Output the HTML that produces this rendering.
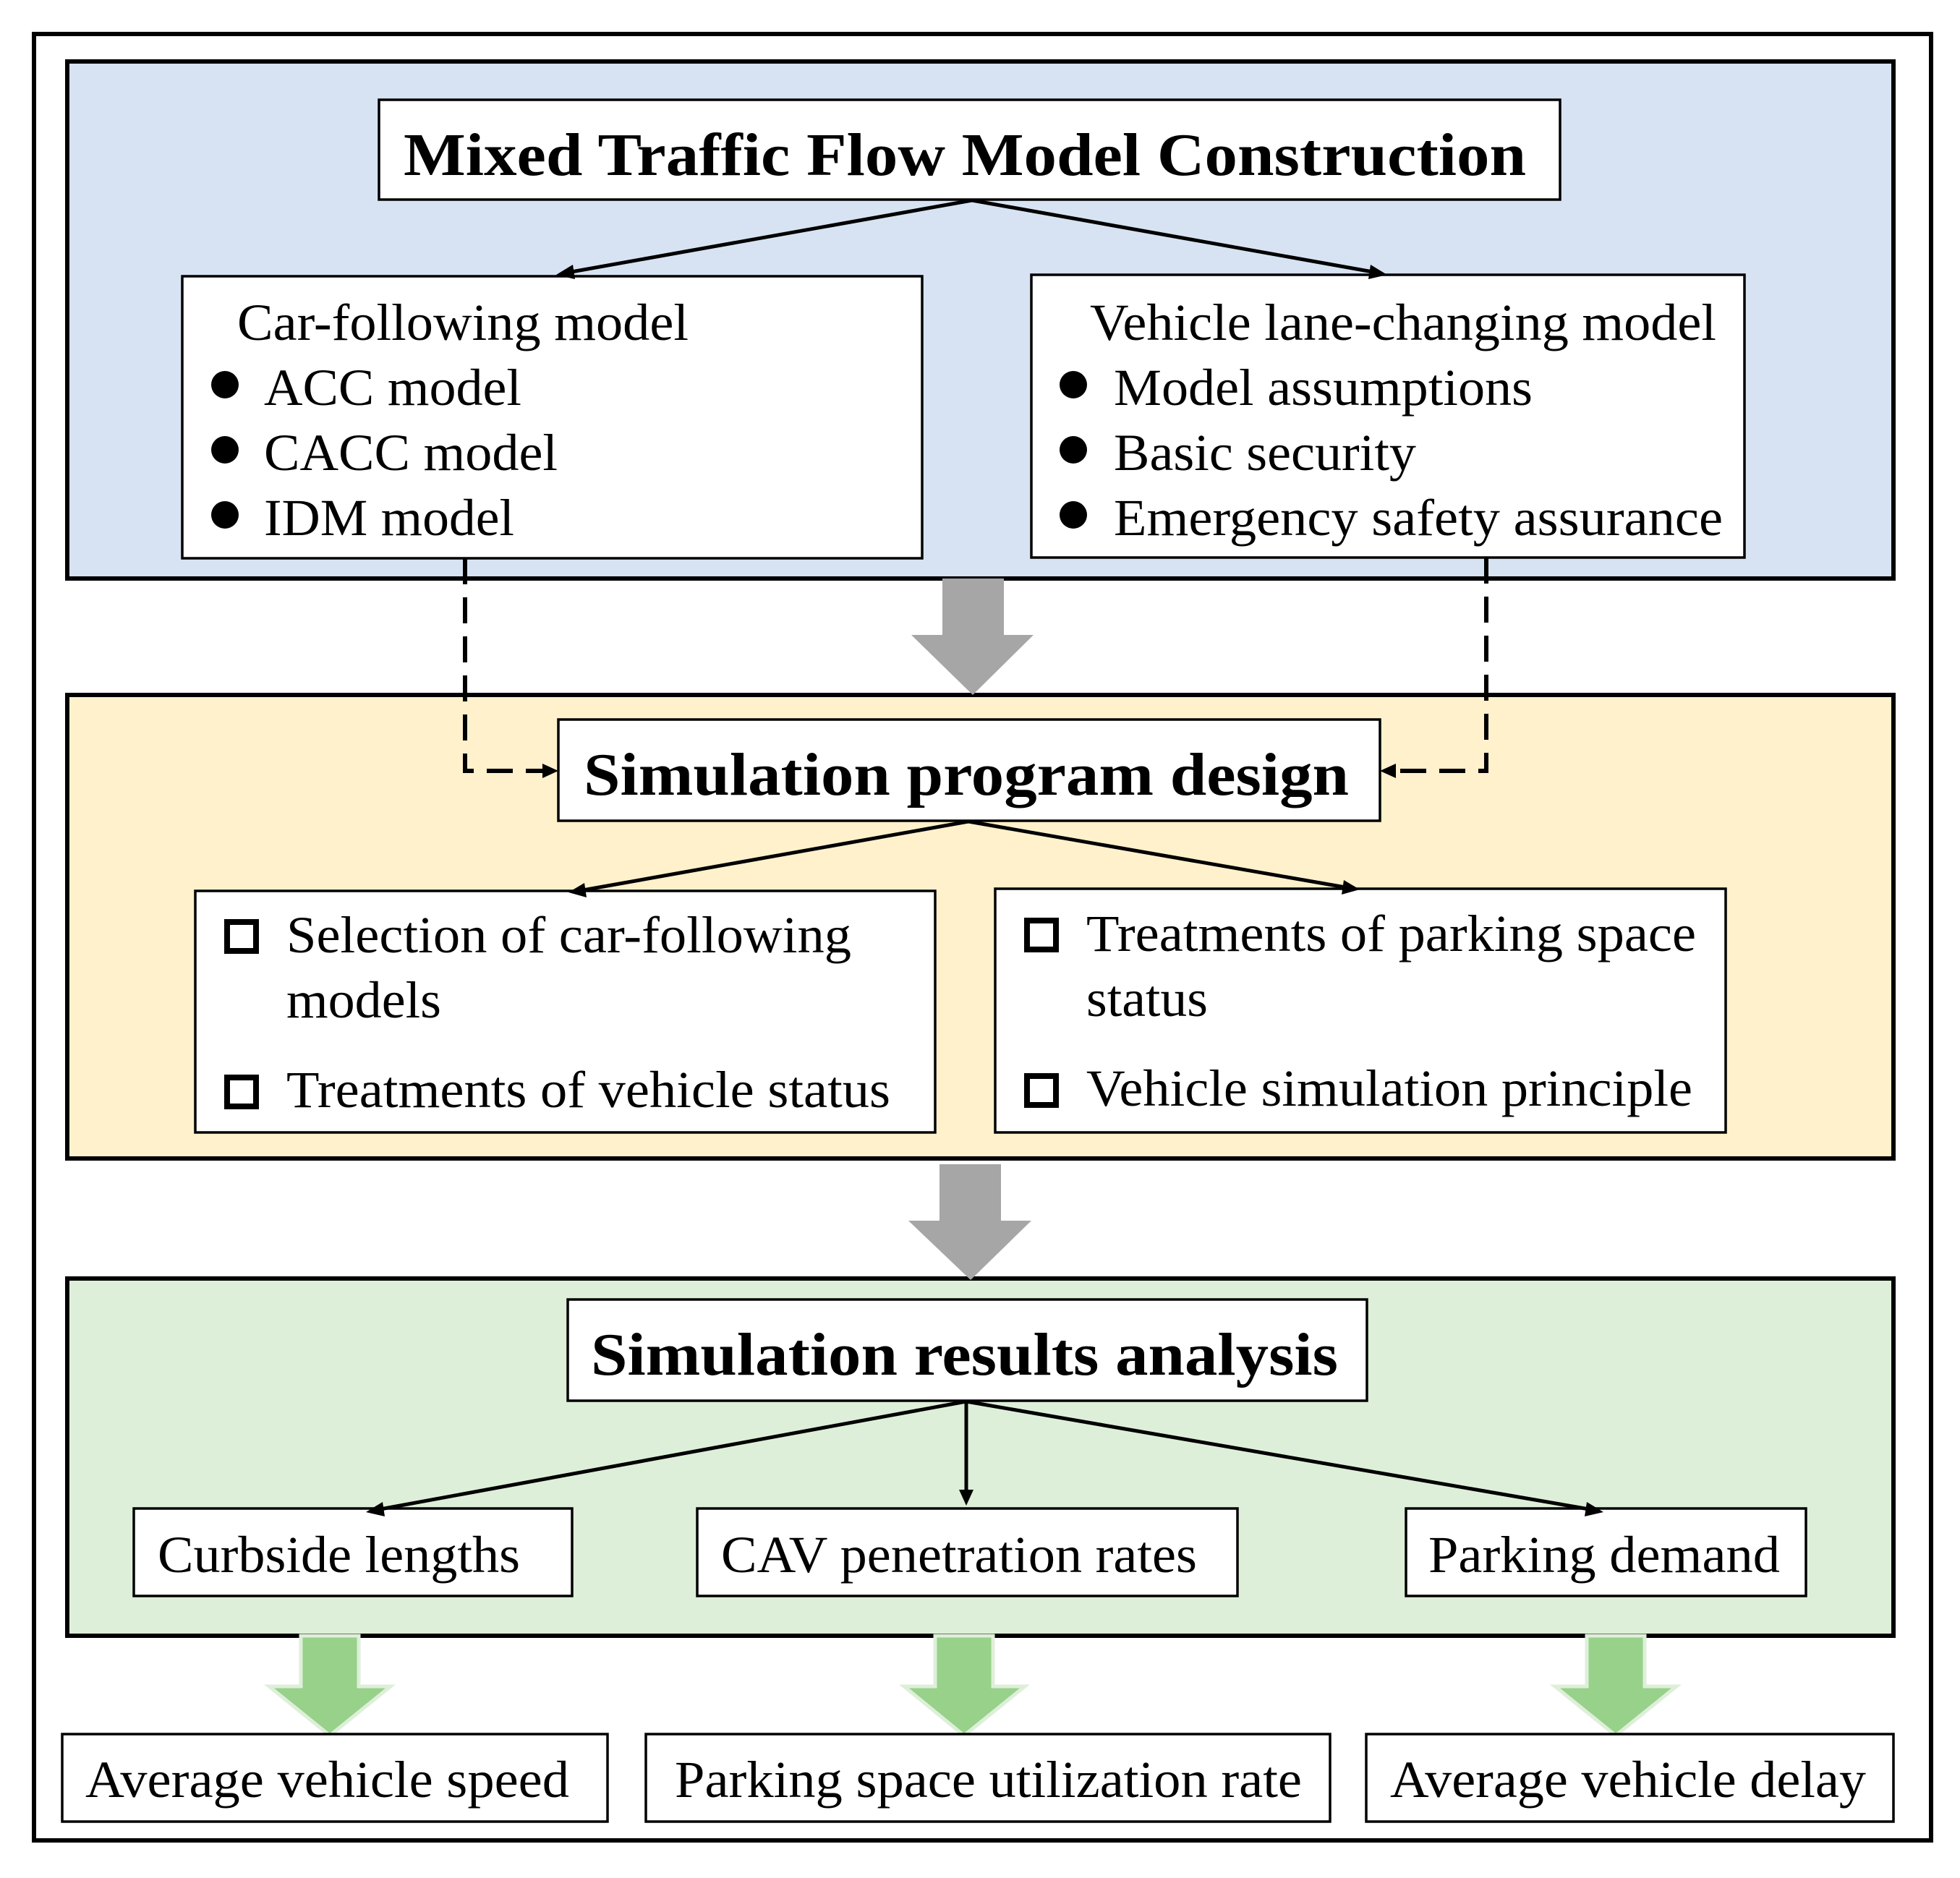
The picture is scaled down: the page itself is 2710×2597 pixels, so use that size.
<!DOCTYPE html>
<html><head><meta charset="utf-8"><style>html,body{margin:0;padding:0;background:#fff}svg{display:block}</style></head>
<body>
<svg width="2710" height="2597" viewBox="0 0 2710 2597" xmlns="http://www.w3.org/2000/svg" font-family="'Liberation Serif', serif">
<rect x="47" y="47" width="2623" height="2498" fill="#fff" stroke="#000" stroke-width="6"/>
<rect x="93" y="85" width="2525" height="715" fill="#D7E3F3" stroke="#000" stroke-width="6"/>
<rect x="93" y="961" width="2525" height="641" fill="#FFF1CC" stroke="#000" stroke-width="6"/>
<rect x="93" y="1768" width="2525" height="494" fill="#DEEFD9" stroke="#000" stroke-width="6"/>

<polygon points="1303,800 1388,800 1388,878 1429,878 1345,961 1260,878 1303,878" fill="#A6A6A6"/>
<polygon points="1299,1610 1384,1610 1384,1688 1426,1688 1342,1770 1256,1688 1299,1688" fill="#A6A6A6"/>

<g fill="#97D18A" stroke="#DEEFD9" stroke-width="5">
<polygon points="416,2262 496,2262 496,2332 540,2332 456,2400 372,2332 416,2332"/>
<polygon points="1293,2262 1373,2262 1373,2332 1417,2332 1333,2400 1250,2332 1293,2332"/>
<polygon points="2194,2262 2274,2262 2274,2332 2318,2332 2234,2400 2150,2332 2194,2332"/>
</g>

<g fill="#fff" stroke="#000" stroke-width="3.5">
<rect x="524" y="138" width="1633" height="138"/>
<rect x="252" y="382" width="1023" height="390"/>
<rect x="1426" y="380" width="986" height="391"/>
<rect x="772" y="995" width="1136" height="140"/>
<rect x="270" y="1232" width="1023" height="334"/>
<rect x="1376" y="1229" width="1010" height="337"/>
<rect x="785" y="1797" width="1105" height="140"/>
<rect x="185" y="2086" width="606" height="121"/>
<rect x="964" y="2086" width="747" height="121"/>
<rect x="1944" y="2086" width="553" height="121"/>
<rect x="86" y="2398" width="754" height="121"/>
<rect x="893" y="2398" width="946" height="121"/>
<rect x="1889" y="2398" width="729" height="121"/>
</g>

<g stroke="#000" stroke-width="5" fill="none">
<line x1="1344" y1="277" x2="790" y2="376"/>
<line x1="1344" y1="277" x2="1898" y2="376"/>
<line x1="1339" y1="1136" x2="806" y2="1231"/>
<line x1="1339" y1="1136" x2="1860" y2="1227"/>
<line x1="1336" y1="1938" x2="526" y2="2087"/>
<line x1="1336" y1="1938" x2="1336" y2="2062"/>
<line x1="1336" y1="1938" x2="2197" y2="2087"/>
</g>
<g fill="#000">
<polygon points="769,380 792,366 795,386"/>
<polygon points="1918,380 1895,366 1892,386"/>
<polygon points="786,1234 808,1221 811,1241"/>
<polygon points="1880,1230 1858,1217 1855,1237"/>
<polygon points="506,2091 529,2077 532,2097"/>
<polygon points="1336,2082 1326,2060 1346,2060"/>
<polygon points="2217,2091 2194,2077 2191,2097"/>
</g>

<g stroke="#000" stroke-width="6" fill="none" stroke-dasharray="36,18">
<polyline points="643,772 643,1066 752,1066"/>
<polyline points="2055,771 2055,1066 1928,1066"/>
</g>
<polygon points="772,1066 750,1056 750,1076" fill="#000"/>
<polygon points="1908,1066 1930,1056 1930,1076" fill="#000"/>

<g fill="#000">
<circle cx="311" cy="532" r="19"/><circle cx="311" cy="622" r="19"/><circle cx="311" cy="712" r="19"/>
<circle cx="1484" cy="532" r="19"/><circle cx="1484" cy="622" r="19"/><circle cx="1484" cy="712" r="19"/>
</g>
<g fill="none" stroke="#000" stroke-width="8">
<rect x="314" y="1275" width="40" height="40"/>
<rect x="314" y="1490" width="40" height="40"/>
<rect x="1420" y="1273" width="40" height="40"/>
<rect x="1420" y="1488" width="40" height="40"/>
</g>

<g font-weight="bold" font-size="84" fill="#000">
<text x="558" y="242" textLength="1552" lengthAdjust="spacingAndGlyphs">Mixed Traffic Flow Model Construction</text>
<text x="807" y="1099" textLength="1058" lengthAdjust="spacingAndGlyphs">Simulation program design</text>
<text x="817" y="1901" textLength="1033" lengthAdjust="spacingAndGlyphs">Simulation results analysis</text>
</g>
<g font-size="72" fill="#000">
<text x="328" y="470" textLength="624" lengthAdjust="spacingAndGlyphs">Car-following model</text>
<text x="365" y="560" textLength="356" lengthAdjust="spacingAndGlyphs">ACC model</text>
<text x="365" y="650" textLength="406" lengthAdjust="spacingAndGlyphs">CACC model</text>
<text x="365" y="740" textLength="346" lengthAdjust="spacingAndGlyphs">IDM model</text>
<text x="1507" y="470" textLength="866" lengthAdjust="spacingAndGlyphs">Vehicle lane-changing model</text>
<text x="1540" y="560" textLength="579" lengthAdjust="spacingAndGlyphs">Model assumptions</text>
<text x="1540" y="650" textLength="418" lengthAdjust="spacingAndGlyphs">Basic security</text>
<text x="1540" y="740" textLength="842" lengthAdjust="spacingAndGlyphs">Emergency safety assurance</text>
<text x="396" y="1317" textLength="781" lengthAdjust="spacingAndGlyphs">Selection of car-following</text>
<text x="396" y="1407" textLength="214" lengthAdjust="spacingAndGlyphs">models</text>
<text x="396" y="1531" textLength="835" lengthAdjust="spacingAndGlyphs">Treatments of vehicle status</text>
<text x="1502" y="1315" textLength="843" lengthAdjust="spacingAndGlyphs">Treatments of parking space</text>
<text x="1502" y="1405" textLength="168" lengthAdjust="spacingAndGlyphs">status</text>
<text x="1502" y="1529" textLength="838" lengthAdjust="spacingAndGlyphs">Vehicle simulation principle</text>
<text x="218" y="2174" textLength="501" lengthAdjust="spacingAndGlyphs">Curbside lengths</text>
<text x="997" y="2174" textLength="658" lengthAdjust="spacingAndGlyphs">CAV penetration rates</text>
<text x="1975" y="2174" textLength="486" lengthAdjust="spacingAndGlyphs">Parking demand</text>
<text x="118" y="2485" textLength="669" lengthAdjust="spacingAndGlyphs">Average vehicle speed</text>
<text x="933" y="2485" textLength="867" lengthAdjust="spacingAndGlyphs">Parking space utilization rate</text>
<text x="1922" y="2485" textLength="658" lengthAdjust="spacingAndGlyphs">Average vehicle delay</text>
</g>
</svg>
</body></html>
